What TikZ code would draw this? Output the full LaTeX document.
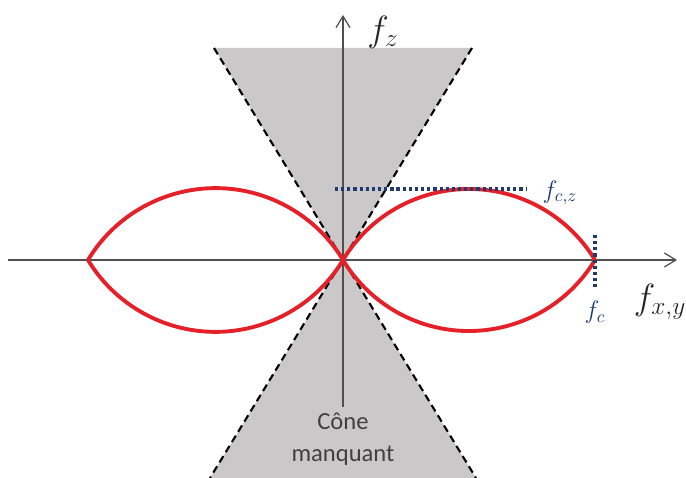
\documentclass[tikz,border=0pt]{standalone}
\usepackage{fontspec}
\newfontfamily\labelfont{Carlito}
\usepackage{tikz}
\usetikzlibrary{positioning,arrows.meta}
\definecolor{conegray}{RGB}{202,200,200}
\definecolor{lobered}{RGB}{230,32,40}
\definecolor{cutblue}{RGB}{32,58,110}
\definecolor{axisgray}{RGB}{80,80,80}
\tikzset{
  axisline/.style={-{Straight Barb[length=2.3mm, width=2.8mm]}, draw=axisgray, line width=0.7pt},
  conefill/.style={fill=conegray, draw=none},
  coneedge/.style={draw=black, line width=1.2pt, dash pattern=on 4.2pt off 2.6pt},
  lobe/.style={draw=lobered, line width=2.2pt},
  cutline/.style={draw=cutblue, line width=1.8pt, dash pattern=on 1.8pt off 1.7pt},
  axlabel/.style={font=\fontsize{21}{24}\selectfont, text=black!85},
  cutlabel/.style={font=\fontsize{14}{17}\selectfont, text=cutblue}
}

\begin{document}
\begin{tikzpicture}[scale=0.02]
  \useasboundingbox (-343,-218) rectangle (343,260);
  % missing cone
  \fill[conefill] (-129,212) -- (129,212) -- (0,0) -- cycle;
  \fill[conefill] (0,0) -- (133,-218) -- (-133,-218) -- cycle;
  \draw[coneedge] (-129,212) -- (133,-218);
  \draw[coneedge] (129,212) -- (-133,-218);
  \node[font=\labelfont\fontsize{14}{18}\selectfont, text=black!75, align=center] (cone) at (0,-179) {Cône\\manquant};
  % axes
  \coordinate (origin) at (0,0);
  \coordinate (xstart) at (-335,0);
  \coordinate (xend) at (334,0);
  \coordinate (zend) at (0,245);
  \draw[axisline] (xstart) -- (xend);
  \draw[axisline] (cone.north) -- (zend);
  % lobes
  \draw[lobe] (origin) arc[start angle=148.8, end angle=31.2, radius=147.3]
    arc[start angle=-31.2, end angle=-148.8, radius=147.3];
  \draw[lobe] (-255,0) arc[start angle=148.8, end angle=31.2, radius=149.1]
    arc[start angle=-31.2, end angle=-148.8, radius=149.1];
  % cut-off frequencies
  \coordinate (fczleft) at (-8,71);
  \coordinate (fczright) at (184,71);
  \coordinate (fctop) at (252,25);
  \coordinate (fcbottom) at (252,-30);
  \draw[cutline] (fczleft) -- (fczright);
  \draw[cutline] (fctop) -- (fcbottom);
  % labels
  \node[axlabel] (fz) at (40,228) {$f_z$};
  \node[axlabel] (fxy) at (317,-42) {$f_{x,y}$};
  \node[cutlabel] (fcz) at (217,67) {$f_{c,z}$};
  \node[cutlabel] (fc) at (252,-52) {$f_c$};
\end{tikzpicture}
\end{document}
